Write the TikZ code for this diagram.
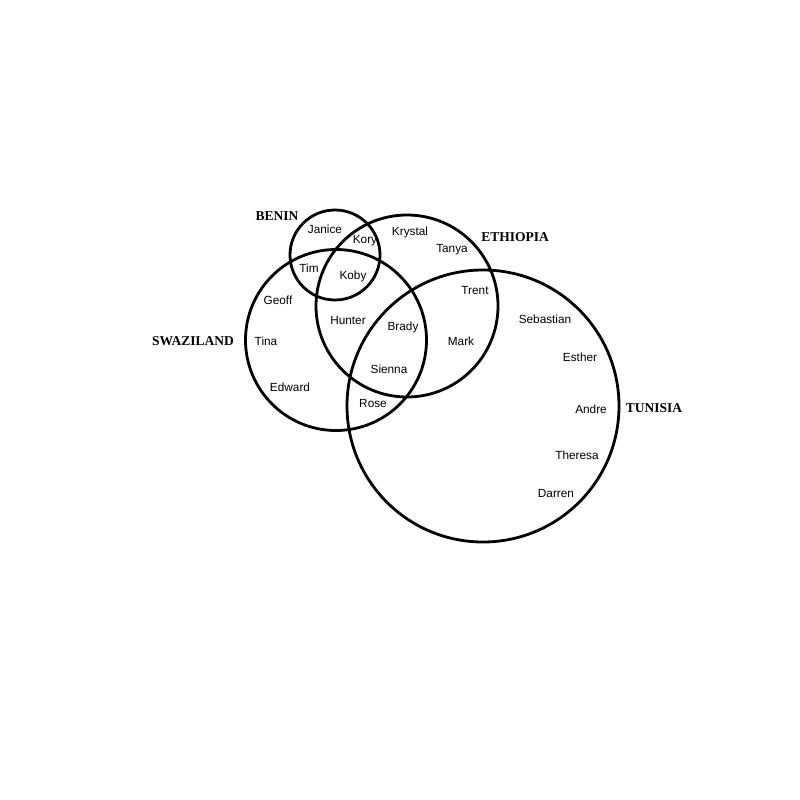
\documentclass[tikz,border=0pt]{standalone}
\usepackage{fontspec}
\setmainfont{Liberation Serif}
\newfontfamily\namefont{Liberation Sans}
\begin{document}
\begin{tikzpicture}[x=1pt,y=-1pt,
  setcircle/.style={draw=black,line width=2.8pt},
  setlabel/.style={font=\fontsize{13.5}{15}\selectfont\bfseries,inner sep=0pt},
  member/.style={font=\namefont\fontsize{11.8}{13}\selectfont,inner sep=0pt}]
\useasboundingbox (0,0) rectangle (800,800);
% the four sets
\node[setcircle,circle,minimum size=90pt,inner sep=0pt] (benin) at (335,255) {};
\node[setcircle,circle,minimum size=182pt,inner sep=0pt] (ethiopia) at (407,306) {};
\node[setcircle,circle,minimum size=181pt,inner sep=0pt] (swaziland) at (336,340) {};
\node[setcircle,circle,minimum size=272pt,inner sep=0pt] (tunisia) at (483,406) {};
% set labels
\node[setlabel] (lbenin) at (277,216) {BENIN};
\node[setlabel] (lethiopia) at (515,237) {ETHIOPIA};
\node[setlabel] (lswaziland) at (193,341) {SWAZILAND};
\node[setlabel] (ltunisia) at (654,408) {TUNISIA};
% members
\node[member] (janice) at (325,229) {Janice};
\node[member] (kory) at (365,241) {Kory};
\node[member] (krystal) at (410,232) {Krystal};
\node[member] (tanya) at (452,250) {Tanya};
\node[member] (tim) at (309,268) {Tim};
\node[member] (koby) at (353,276) {Koby};
\node[member] (trent) at (475,290) {Trent};
\node[member] (geoff) at (278,300) {Geoff};
\node[member] (sebastian) at (545,319) {Sebastian};
\node[member] (hunter) at (348,320) {Hunter};
\node[member] (brady) at (403,327) {Brady};
\node[member] (tina) at (266,341) {Tina};
\node[member] (mark) at (461,341) {Mark};
\node[member] (esther) at (580,357) {Esther};
\node[member] (sienna) at (389,369) {Sienna};
\node[member] (edward) at (290,387) {Edward};
\node[member] (rose) at (373,403) {Rose};
\node[member] (andre) at (591,409) {Andre};
\node[member] (theresa) at (577,455) {Theresa};
\node[member] (darren) at (556,493) {Darren};
\end{tikzpicture}
\end{document}
